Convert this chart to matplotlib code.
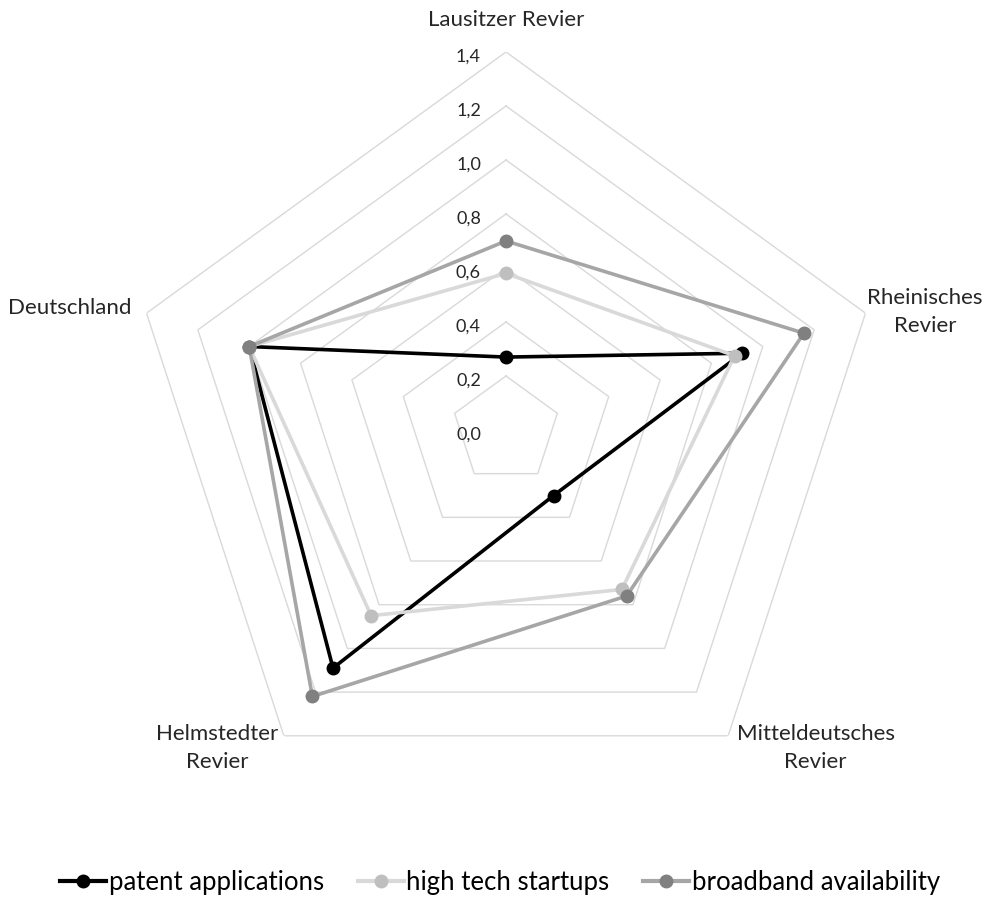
import numpy as np
import matplotlib
matplotlib.use("Agg")
import matplotlib.pyplot as plt
from matplotlib.lines import Line2D

categories = ["Lausitzer Revier", "Rheinisches\nRevier", "Mitteldeutsches\nRevier",
              "Helmstedter\nRevier", "Deutschland"]
patent_applications = [0.27, 0.92, 0.30, 1.09, 1.00]
high_tech_startups = [0.58, 0.89, 0.73, 0.85, 1.00]
broadband_availability = [0.70, 1.16, 0.76, 1.22, 1.00]
r_ticks = [0.0, 0.2, 0.4, 0.6, 0.8, 1.0, 1.2, 1.4]
r_tick_labels = ["0,0", "0,2", "0,4", "0,6", "0,8", "1,0", "1,2", "1,4"]
legend_labels = ["patent applications", "high tech startups", "broadband availability"]

plt.rcParams['font.family'] = ['Lato', 'DejaVu Sans']

fig = plt.figure(figsize=(10, 9.1), dpi=100)
ax = fig.add_axes([0.128, 0.1121, 0.756, 0.8308], projection='polar')
ax.set_theta_offset(np.pi / 2)
ax.set_theta_direction(-1)
ax.set_ylim(0, 1.4)
ax.grid(False)
ax.spines['polar'].set_visible(False)
ax.set_xticks([])
ax.set_yticks([])

n = len(categories)
theta = np.arange(n) * 2 * np.pi / n
theta_closed = np.append(theta, theta[0])

grid_col = "#d9d9d9"
for v in r_ticks[1:]:
    ax.plot(theta_closed, [v] * (n + 1), color=grid_col, lw=1.0, zorder=1)

for v, lab in zip(r_ticks, r_tick_labels):
    ax.annotate(lab, xy=(0, v), xytext=(-18, -3), textcoords='offset points',
                ha='right', va='center', fontsize=13, color='#262626')

series = [
    (patent_applications, "#000000", "#000000"),
    (high_tech_startups, "#d9d9d9", "#bfbfbf"),
    (broadband_availability, "#a6a6a6", "#808080"),
]
handles = []
for vals, lc, mc in series:
    vc = list(vals) + [vals[0]]
    ax.plot(theta_closed, vc, color=lc, lw=2.6, zorder=3, solid_joinstyle='round')
    ax.plot(theta, vals, linestyle='none', marker='o', markersize=9,
            markerfacecolor=mc, markeredgecolor=mc, zorder=4)
    handles.append(Line2D([0], [0], color=lc, lw=3.0, marker='o', markersize=9,
                          markerfacecolor=mc, markeredgecolor=mc))

# category labels
offsets = [(0, 23, 'center', 'center'),
           (43, 1, 'center', 'center'),
           (63, -9, 'center', 'center'),
           (-48, -9, 'center', 'center'),
           (-11, 4, 'right', 'center')]
for th, lab, (dx, dy, ha, va) in zip(theta, categories, offsets):
    ax.annotate(lab, xy=(th, 1.4), xytext=(dx, dy), textcoords='offset points',
                ha=ha, va=va, fontsize=16, color='#262626', linespacing=1.5,
                annotation_clip=False)

fig.legend(handles, legend_labels, loc='center', bbox_to_anchor=(0.5, 0.0297),
           ncol=3, frameon=False, fontsize=18.5, handlelength=1.8, handletextpad=0.1,
           columnspacing=1.3)

fig.savefig("out.png", dpi=100, facecolor='white')
